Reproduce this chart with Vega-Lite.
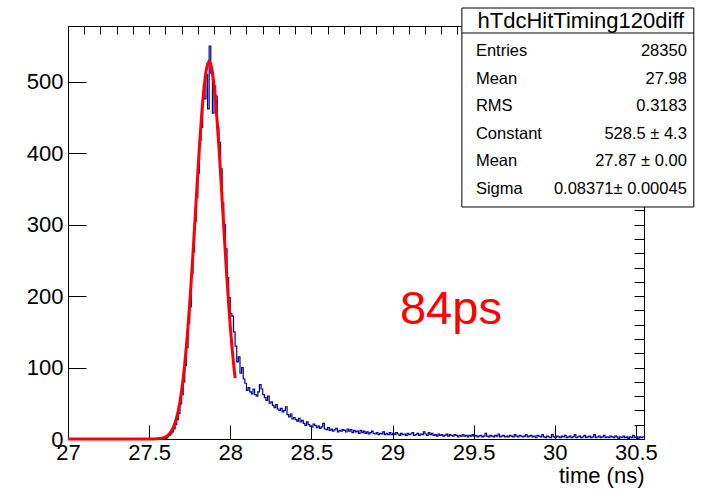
{
"$schema": "https://vega.github.io/schema/vega-lite/v6.json",
"width": 576, "height": 413,
"autosize": "none",
"padding": {"left": 68, "top": 26, "right": 62, "bottom": 51},
"background": "white",
"config": {
  "view": {"stroke": "black", "strokeWidth": 1},
  "font": "Liberation Sans",
  "axis": {"grid": false, "domain": false, "tickColor": "black", "tickWidth": 1, "labelFont": "Liberation Sans", "labelFontSize": 22, "labelColor": "black", "labelFlush": false, "labelOverlap": false, "titleFont": "Liberation Sans", "titleFontSize": 22, "titleFontWeight": "normal", "titleColor": "black"}
},
"datasets": {
  "hist": [
{"t":27.00,"n":0},{"t":27.50,"n":0},{"t":27.55,"n":0},{"t":27.56,"n":1},{"t":27.57,"n":0},{"t":27.58,"n":1},{"t":27.59,"n":2},{"t":27.60,"n":1},{"t":27.61,"n":3},{"t":27.62,"n":5},{"t":27.63,"n":7},{"t":27.64,"n":10},{"t":27.65,"n":14},{"t":27.66,"n":20},{"t":27.67,"n":27},{"t":27.68,"n":36},{"t":27.69,"n":49},{"t":27.70,"n":62},{"t":27.71,"n":80},{"t":27.72,"n":103},{"t":27.73,"n":128},{"t":27.74,"n":162},{"t":27.75,"n":185},{"t":27.76,"n":231},{"t":27.77,"n":262},{"t":27.78,"n":305},{"t":27.79,"n":338},{"t":27.80,"n":372},{"t":27.81,"n":418},{"t":27.82,"n":436},{"t":27.83,"n":484},{"t":27.84,"n":476},{"t":27.85,"n":510},{"t":27.86,"n":462},{"t":27.87,"n":550},{"t":27.88,"n":512},{"t":27.89,"n":456},{"t":27.90,"n":494},{"t":27.91,"n":480},{"t":27.92,"n":436},{"t":27.93,"n":415},{"t":27.94,"n":378},{"t":27.95,"n":330},{"t":27.96,"n":300},{"t":27.97,"n":266},{"t":27.98,"n":226},{"t":27.99,"n":198},{"t":28.00,"n":176},{"t":28.01,"n":172},{"t":28.02,"n":150},{"t":28.03,"n":130},{"t":28.04,"n":108},{"t":28.05,"n":115},{"t":28.06,"n":92},{"t":28.07,"n":100},{"t":28.08,"n":84},{"t":28.09,"n":78},{"t":28.10,"n":68},
{"t":28.11,"n":72},{"t":28.12,"n":66},{"t":28.13,"n":63},{"t":28.14,"n":70},{"t":28.15,"n":62},{"t":28.16,"n":60},{"t":28.17,"n":66},{"t":28.18,"n":76},{"t":28.19,"n":70},{"t":28.20,"n":62},{"t":28.21,"n":58},{"t":28.22,"n":54},{"t":28.23,"n":60},{"t":28.24,"n":50},{"t":28.25,"n":52},{"t":28.26,"n":47},{"t":28.27,"n":44},{"t":28.28,"n":48},{"t":28.29,"n":42},{"t":28.30,"n":40},{"t":28.31,"n":43},{"t":28.32,"n":38},{"t":28.33,"n":40},{"t":28.34,"n":45},{"t":28.35,"n":34},{"t":28.36,"n":31},{"t":28.37,"n":35},{"t":28.38,"n":28},{"t":28.39,"n":30},{"t":28.40,"n":27},{"t":28.41,"n":25},{"t":28.42,"n":29},{"t":28.43,"n":24},{"t":28.44,"n":26},{"t":28.45,"n":22},{"t":28.46,"n":19},{"t":28.47,"n":24},{"t":28.48,"n":20},{"t":28.49,"n":18},{"t":28.50,"n":17},{"t":28.51,"n":21},{"t":28.52,"n":19},{"t":28.53,"n":16},{"t":28.54,"n":18},{"t":28.55,"n":15},{"t":28.56,"n":17},{"t":28.57,"n":22},{"t":28.58,"n":14},{"t":28.59,"n":13},{"t":28.60,"n":16},{"t":28.61,"n":12},{"t":28.62,"n":14},{"t":28.63,"n":11},{"t":28.64,"n":13},{"t":28.65,"n":15},{"t":28.66,"n":10},{"t":28.67,"n":12},{"t":28.68,"n":11},{"t":28.69,"n":13},
{"t":28.70,"n":12},{"t":28.71,"n":10},{"t":28.72,"n":14},{"t":28.73,"n":11},{"t":28.74,"n":13},{"t":28.75,"n":9},{"t":28.76,"n":12},{"t":28.77,"n":10},{"t":28.78,"n":11},{"t":28.79,"n":8},{"t":28.80,"n":12},{"t":28.81,"n":9},{"t":28.82,"n":11},{"t":28.83,"n":8},{"t":28.84,"n":10},{"t":28.85,"n":7},{"t":28.86,"n":9},{"t":28.87,"n":11},{"t":28.88,"n":8},{"t":28.89,"n":7},{"t":28.90,"n":9},{"t":28.91,"n":6},{"t":28.92,"n":8},{"t":28.93,"n":7},{"t":28.94,"n":10},{"t":28.95,"n":6},{"t":28.96,"n":8},{"t":28.97,"n":6},{"t":28.98,"n":9},{"t":28.99,"n":6},
{"t":29.00,"n":8},{"t":29.01,"n":6},{"t":29.02,"n":9},{"t":29.03,"n":7},{"t":29.04,"n":5},{"t":29.05,"n":8},{"t":29.06,"n":6},{"t":29.07,"n":7},{"t":29.08,"n":5},{"t":29.09,"n":8},{"t":29.10,"n":6},{"t":29.11,"n":7},{"t":29.12,"n":9},{"t":29.13,"n":5},{"t":29.14,"n":6},{"t":29.15,"n":8},{"t":29.16,"n":5},{"t":29.17,"n":7},{"t":29.18,"n":6},{"t":29.19,"n":10},{"t":29.20,"n":7},{"t":29.21,"n":5},{"t":29.22,"n":9},{"t":29.23,"n":6},{"t":29.24,"n":8},{"t":29.25,"n":5},{"t":29.26,"n":6},{"t":29.27,"n":4},{"t":29.28,"n":7},{"t":29.29,"n":5},{"t":29.30,"n":6},{"t":29.31,"n":4},{"t":29.32,"n":5},{"t":29.33,"n":7},{"t":29.34,"n":4},{"t":29.35,"n":6},{"t":29.36,"n":5},{"t":29.37,"n":4},{"t":29.38,"n":6},{"t":29.39,"n":5},{"t":29.40,"n":3},{"t":29.41,"n":5},{"t":29.42,"n":4},{"t":29.43,"n":6},{"t":29.44,"n":4},{"t":29.45,"n":5},{"t":29.46,"n":3},{"t":29.47,"n":5},{"t":29.48,"n":4},{"t":29.49,"n":6},
{"t":29.50,"n":4},{"t":29.51,"n":5},{"t":29.52,"n":3},{"t":29.53,"n":4},{"t":29.54,"n":5},{"t":29.55,"n":3},{"t":29.56,"n":4},{"t":29.57,"n":8},{"t":29.58,"n":4},{"t":29.59,"n":3},{"t":29.60,"n":5},{"t":29.61,"n":4},{"t":29.62,"n":3},{"t":29.63,"n":5},{"t":29.64,"n":4},{"t":29.65,"n":7},{"t":29.66,"n":3},{"t":29.67,"n":4},{"t":29.68,"n":5},{"t":29.69,"n":3},{"t":29.70,"n":4},{"t":29.71,"n":3},{"t":29.72,"n":5},{"t":29.73,"n":4},{"t":29.74,"n":3},{"t":29.75,"n":6},{"t":29.76,"n":4},{"t":29.77,"n":3},{"t":29.78,"n":5},{"t":29.79,"n":4},{"t":29.80,"n":3},{"t":29.81,"n":4},{"t":29.82,"n":6},{"t":29.83,"n":3},{"t":29.84,"n":4},{"t":29.85,"n":5},{"t":29.86,"n":3},{"t":29.87,"n":4},{"t":29.88,"n":2},{"t":29.89,"n":5},{"t":29.90,"n":4},{"t":29.91,"n":3},{"t":29.92,"n":6},{"t":29.93,"n":3},{"t":29.94,"n":2},{"t":29.95,"n":4},{"t":29.96,"n":3},{"t":29.97,"n":2},{"t":29.98,"n":6},{"t":29.99,"n":3},
{"t":30.00,"n":2},{"t":30.01,"n":4},{"t":30.02,"n":3},{"t":30.03,"n":2},{"t":30.04,"n":4},{"t":30.05,"n":3},{"t":30.06,"n":5},{"t":30.07,"n":2},{"t":30.08,"n":3},{"t":30.09,"n":4},{"t":30.10,"n":2},{"t":30.11,"n":3},{"t":30.12,"n":6},{"t":30.13,"n":2},{"t":30.14,"n":3},{"t":30.15,"n":4},{"t":30.16,"n":2},{"t":30.17,"n":3},{"t":30.18,"n":5},{"t":30.19,"n":2},{"t":30.20,"n":3},{"t":30.21,"n":4},{"t":30.22,"n":2},{"t":30.23,"n":3},{"t":30.24,"n":6},{"t":30.25,"n":2},{"t":30.26,"n":3},{"t":30.27,"n":4},{"t":30.28,"n":2},{"t":30.29,"n":3},{"t":30.30,"n":5},{"t":30.31,"n":2},{"t":30.32,"n":3},{"t":30.33,"n":2},{"t":30.34,"n":4},{"t":30.35,"n":3},{"t":30.36,"n":2},{"t":30.37,"n":4},{"t":30.38,"n":3},{"t":30.39,"n":1},{"t":30.40,"n":3},{"t":30.41,"n":2},{"t":30.42,"n":4},{"t":30.43,"n":2},{"t":30.44,"n":3},{"t":30.45,"n":1},{"t":30.46,"n":3},{"t":30.47,"n":2},{"t":30.48,"n":5},{"t":30.49,"n":2},{"t":30.50,"n":3},{"t":30.51,"n":1},{"t":30.52,"n":3},{"t":30.53,"n":2},{"t":30.54,"n":3},{"t":30.55,"n":3}
  ],
  "fit": [
{"t":27.00,"f":0},{"t":27.40,"f":0},{"t":27.50,"f":0.03},{"t":27.51,"f":0.05},{"t":27.52,"f":0.08},{"t":27.53,"f":0.14},{"t":27.54,"f":0.22},{"t":27.55,"f":0.35},{"t":27.56,"f":0.56},{"t":27.57,"f":0.86},{"t":27.58,"f":1.31},{"t":27.59,"f":1.97},{"t":27.60,"f":2.91},{"t":27.61,"f":4.25},{"t":27.62,"f":6.11},{"t":27.63,"f":8.67},{"t":27.64,"f":12.13},{"t":27.65,"f":16.72},{"t":27.66,"f":22.72},{"t":27.67,"f":30.46},{"t":27.68,"f":40.21},{"t":27.69,"f":52.37},{"t":27.70,"f":67.2},{"t":27.71,"f":85.1},{"t":27.72,"f":106.1},{"t":27.73,"f":130.5},{"t":27.74,"f":158.2},{"t":27.75,"f":189.1},{"t":27.76,"f":222.9},{"t":27.77,"f":258.9},{"t":27.78,"f":296.5},{"t":27.79,"f":334.8},{"t":27.80,"f":372.5},{"t":27.81,"f":408.8},{"t":27.82,"f":442.1},{"t":27.83,"f":471.5},{"t":27.84,"f":495.6},{"t":27.85,"f":513.6},{"t":27.86,"f":524.8},{"t":27.87,"f":528.5},{"t":27.88,"f":524.8},{"t":27.89,"f":513.6},{"t":27.90,"f":495.6},{"t":27.91,"f":471.5},{"t":27.92,"f":442.1},{"t":27.93,"f":408.8},{"t":27.94,"f":372.5},{"t":27.95,"f":334.8},{"t":27.96,"f":296.5},{"t":27.97,"f":258.9},{"t":27.98,"f":222.9},{"t":27.99,"f":189.1},{"t":28.00,"f":158.2},{"t":28.01,"f":130.5},{"t":28.02,"f":106.1},{"t":28.03,"f":85.1}
  ],
  "stats": [
{"row":0,"label":"Entries","value":"28350"},
{"row":1,"label":"Mean","value":"27.98"},
{"row":2,"label":"RMS","value":"0.3183"},
{"row":3,"label":"Constant","value":"528.5 ± 4.3"},
{"row":4,"label":"Mean","value":"27.87 ± 0.00"},
{"row":5,"label":"Sigma","value":"0.08371± 0.00045"}
  ],
  "note": [{"label": "84ps"}],
  "box": [{"name": "hTdcHitTiming120diff"}]
},
"resolve": {"scale": {"y": "independent"}, "axis": {"x": "independent", "y": "independent"}},
"layer": [
  {
    "data": {"name": "hist"},
    "mark": {"type": "line", "interpolate": "step-after", "color": "#000099", "strokeWidth": 1.2},
    "encoding": {
      "x": {"field": "t", "type": "quantitative", "scale": {"domain": [27, 30.55], "nice": false, "zero": false},
        "axis": {"values": [27, 27.5, 28, 28.5, 29, 29.5, 30, 30.5], "format": "~g", "tickSize": -14, "labelPadding": 17, "title": "time (ns)", "titleAnchor": "end", "titlePadding": 2}},
      "y": {"field": "n", "type": "quantitative", "scale": {"domain": [0, 578], "nice": false},
        "axis": {"values": [0, 100, 200, 300, 400, 500], "tickSize": -18, "labelPadding": 23, "title": null}}
    }
  },
  {
    "data": {"name": "fit"},
    "mark": {"type": "line", "color": "#ff0000", "strokeWidth": 3},
    "encoding": {
      "x": {"field": "t", "type": "quantitative", "scale": {"domain": [27, 30.55], "nice": false, "zero": false},
        "axis": {"values": [27,27.1,27.2,27.3,27.4,27.5,27.6,27.7,27.8,27.9,28,28.1,28.2,28.3,28.4,28.5,28.6,28.7,28.8,28.9,29,29.1,29.2,29.3,29.4,29.5,29.6,29.7,29.8,29.9,30,30.1,30.2,30.3,30.4,30.5], "tickSize": -8, "labels": false, "title": null}},
      "y": {"field": "f", "type": "quantitative", "scale": {"domain": [0, 578], "nice": false},
        "axis": {"values": [0,20,40,60,80,100,120,140,160,180,200,220,240,260,280,300,320,340,360,380,400,420,440,460,480,500,520,540,560], "tickSize": -10, "labels": false, "title": null}}
    }
  },
  {
    "data": {"name": "note"},
    "mark": {"type": "text", "color": "#ff0000", "fontSize": 47, "font": "Liberation Sans", "align": "center", "baseline": "alphabetic"},
    "encoding": {
      "x": {"datum": 29.36, "type": "quantitative", "scale": {"domain": [27, 30.55], "nice": false, "zero": false}, "axis": null},
      "y": {"datum": 161, "type": "quantitative", "scale": {"domain": [0, 578], "nice": false}, "axis": null},
      "text": {"field": "label"}
    }
  },
  {
    "layer": [
      {
        "data": {"name": "box"},
        "mark": {"type": "rect", "fill": "white", "stroke": "black", "strokeWidth": 1},
        "encoding": {
          "x": {"datum": 29.4275, "type": "quantitative", "scale": {"domain": [27, 30.55], "nice": false, "zero": false}, "axis": null},
          "x2": {"datum": 30.857},
          "y": {"datum": -1.558, "type": "quantitative", "scale": {"domain": [-0.906, 14.058], "reverse": true, "nice": false, "zero": false}, "axis": null},
          "y2": {"datum": 5.652}
        }
      },
      {
        "data": {"name": "box"},
        "mark": {"type": "rule", "color": "black", "strokeWidth": 1},
        "encoding": {
          "x": {"datum": 29.4275, "type": "quantitative", "scale": {"domain": [27, 30.55], "nice": false, "zero": false}, "axis": null},
          "x2": {"datum": 30.857},
          "y": {"datum": -0.652, "type": "quantitative", "scale": {"domain": [-0.906, 14.058], "reverse": true, "nice": false, "zero": false}, "axis": null}
        }
      },
      {
        "data": {"name": "box"},
        "mark": {"type": "text", "fontSize": 22, "font": "Liberation Sans", "align": "center", "baseline": "middle", "color": "black"},
        "encoding": {
          "x": {"datum": 30.161, "type": "quantitative", "scale": {"domain": [27, 30.55], "nice": false, "zero": false}, "axis": null},
          "y": {"datum": -1.105, "type": "quantitative", "scale": {"domain": [-0.906, 14.058], "reverse": true, "nice": false, "zero": false}, "axis": null},
          "text": {"field": "name"}
        }
      },
      {
        "data": {"name": "stats"},
        "mark": {"type": "text", "fontSize": 16.5, "font": "Liberation Sans", "align": "left", "baseline": "middle", "color": "black"},
        "encoding": {
          "x": {"datum": 29.514, "type": "quantitative", "scale": {"domain": [27, 30.55], "nice": false, "zero": false}, "axis": null},
          "y": {"field": "row", "type": "quantitative", "scale": {"domain": [-0.906, 14.058], "reverse": true, "nice": false, "zero": false}, "axis": null},
          "text": {"field": "label"}
        }
      },
      {
        "data": {"name": "stats"},
        "mark": {"type": "text", "fontSize": 16.5, "font": "Liberation Sans", "align": "right", "baseline": "middle", "color": "black"},
        "encoding": {
          "x": {"datum": 30.814, "type": "quantitative", "scale": {"domain": [27, 30.55], "nice": false, "zero": false}, "axis": null},
          "y": {"field": "row", "type": "quantitative", "scale": {"domain": [-0.906, 14.058], "reverse": true, "nice": false, "zero": false}, "axis": null},
          "text": {"field": "value"}
        }
      }
    ]
  }
]
}
